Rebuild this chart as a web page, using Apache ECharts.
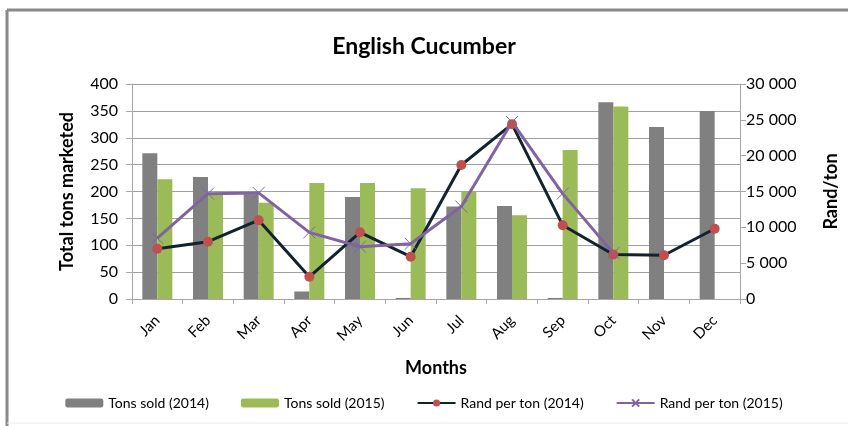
<!DOCTYPE html>
<html>
<head>
<meta charset="utf-8">
<script src="https://cdn.jsdelivr.net/npm/echarts@6/dist/echarts.min.js"></script>
<style>
    html, body { margin: 0; padding: 0; background: #fff; }
    #chart { width: 848px; height: 426px; }
</style>
</head>
<body>
<div id="chart"></div>
<script>
    // data
    const months = ['Jan', 'Feb', 'Mar', 'Apr', 'May', 'Jun', 'Jul', 'Aug', 'Sep', 'Oct', 'Nov', 'Dec'];
    const tons2014 = [271, 227, 195, 14, 190, 2, 172, 173, 2, 366, 320, 350];
    const tons2015 = [223, 196, 179, 216, 216, 206, 200, 156, 277, 358, null, null];
    const rand2014 = [7000, 8000, 11000, 3100, 9300, 5900, 18700, 24400, 10300, 6200, 6100, 9800];
    const rand2015 = [8500, 14700, 14800, 9300, 7300, 7700, 12900, 24700, 14700, 6400, null, null];

    const font = 'Lato, "Open Sans", sans-serif';
    const axisGray = '#a6a6a6';

    // "30 000" style
    const spaced = v => String(v).replace(/\B(?=(\d{3})+(?!\d))/g, ' ');

    let chart = echarts.init(document.getElementById('chart'));
    chart.setOption({
        textStyle: {fontFamily: font},
        animation: false,
        title: {
            text: 'English Cucumber',
            left: 'center',
            top: 30,
            textStyle: {fontSize: 23, fontWeight: 'bold', color: '#000', fontFamily: font}
        },
        graphic: [
            {type: 'line', shape: {x1: 7, y1: 10, x2: 848, y2: 10}, style: {stroke: '#8a8a8a', lineWidth: 3}},
            {type: 'line', shape: {x1: 7, y1: 10, x2: 7, y2: 426}, style: {stroke: '#8a8a8a', lineWidth: 3}},
            {type: 'line', shape: {x1: 7, y1: 423, x2: 848, y2: 423}, style: {stroke: '#ececec', lineWidth: 1}}
        ],
        legend: {
            bottom: 11,
            left: 'center',
            itemWidth: 38,
            itemHeight: 9,
            itemGap: 32,
            textStyle: {fontSize: 14, color: '#000', fontFamily: font},
            data: ['Tons sold (2014)', 'Tons sold (2015)', 'Rand per ton (2014)', 'Rand per ton (2015)']
        },
        grid: {left: 132, right: 103, top: 84, bottom: 127},
        xAxis: {
            type: 'category',
            data: months,
            name: 'Months',
            nameLocation: 'middle',
            nameGap: 60,
            nameTextStyle: {fontSize: 18, fontWeight: 'bold', color: '#000'},
            axisLine: {lineStyle: {color: axisGray}},
            axisTick: {show: true, lineStyle: {color: axisGray}},
            axisLabel: {rotate: 45, fontSize: 15, color: '#000', margin: 19}
        },
        yAxis: [
            {
                type: 'value',
                min: 0,
                max: 400,
                interval: 50,
                name: 'Total tons marketed',
                nameLocation: 'middle',
                nameGap: 56,
                nameTextStyle: {fontSize: 18, fontWeight: 'bold', color: '#000'},
                axisLine: {show: true, lineStyle: {color: axisGray}},
                axisTick: {show: true, length: 6, lineStyle: {color: axisGray}},
                axisLabel: {fontSize: 16, color: '#000', margin: 14},
                splitLine: {lineStyle: {color: '#a0a0a0'}}
            },
            {
                type: 'value',
                min: 0,
                max: 30000,
                interval: 5000,
                name: 'Rand/ton',
                nameLocation: 'middle',
                nameGap: 82,
                nameTextStyle: {fontSize: 18, fontWeight: 'bold', color: '#000'},
                axisLine: {show: true, lineStyle: {color: axisGray}},
                axisTick: {show: true, length: 6, lineStyle: {color: axisGray}},
                axisLabel: {fontSize: 16, color: '#000', margin: 6, formatter: spaced},
                splitLine: {show: false}
            }
        ],
        series: [
            {
                name: 'Tons sold (2014)',
                type: 'bar',
                data: tons2014,
                barWidth: 15,
                barGap: '0%',
                itemStyle: {color: '#808080'}
            },
            {
                name: 'Tons sold (2015)',
                type: 'bar',
                data: tons2015,
                barWidth: 15,
                itemStyle: {color: '#9bbb59'}
            },
            {
                name: 'Rand per ton (2014)',
                type: 'line',
                yAxisIndex: 1,
                data: rand2014,
                symbol: 'circle',
                symbolSize: 10,
                lineStyle: {color: '#14222f', width: 3},
                itemStyle: {color: '#c0504d', borderWidth: 0}
            },
            {
                name: 'Rand per ton (2015)',
                type: 'line',
                yAxisIndex: 1,
                data: rand2015,
                symbol: 'path://M0,0L10,10M10,0L0,10',
                symbolSize: 12,
                lineStyle: {color: '#8064a2', width: 3},
                itemStyle: {color: '#8064a2', borderColor: '#8064a2', borderWidth: 1}
            }
        ]
    });
</script>
</body>
</html>
